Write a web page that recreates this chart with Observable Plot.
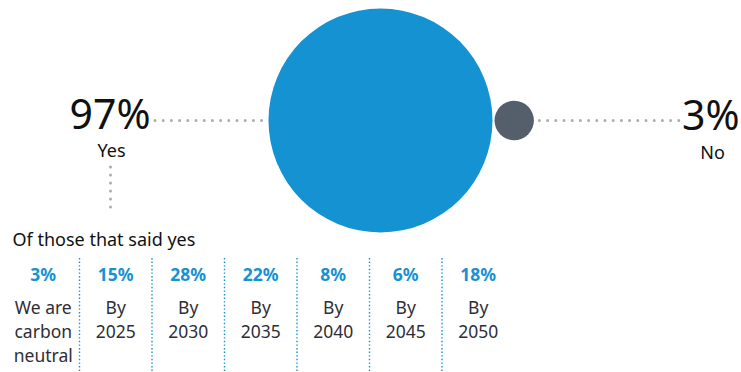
<!DOCTYPE html>
<html><head><meta charset="utf-8">
<script src="https://cdn.jsdelivr.net/npm/d3@7"></script>
<script src="https://cdn.jsdelivr.net/npm/@observablehq/plot@0.6"></script>
<style>body{margin:0;background:#fff}#chart svg{display:block}</style>
</head><body><div id="chart"></div>
<script>
// Data
const answers = ["Yes", "No"];
const answerValues = [97, 3];
const breakdownLabels = ["We are\ncarbon\nneutral", "By\n2025", "By\n2030", "By\n2035", "By\n2040", "By\n2045", "By\n2050"];
const breakdownValues = [3, 15, 28, 22, 8, 6, 18];
const subTitle = "Of those that said yes";

const W = 741, H = 372;
const font = "Noto Sans, sans-serif";
const blue = "#1592d2", grey = "#545f6b", dotGrey = "#a9aeb5", ink = "#2e2e38";

// circle radius scale (area-proportional)
const rScale = d3.scaleSqrt().domain([0, 97]).range([0, 112]);
const R = rScale(answerValues[0]), r = rScale(answerValues[1]);
const cy = 120, cxBig = 380;
const cxSmall = cxBig + R + 2 + r;
const circles = answers.map((a, i) => ({a, v: answerValues[i], x: i === 0 ? cxBig : cxSmall, y: cy}));

const band = d3.scaleBand().domain(breakdownLabels).range([6.5, 514]);
const cols = breakdownLabels.map((l, i) => ({label: l, value: breakdownValues[i], x: band(l) + band.bandwidth() / 2}));
const seps = breakdownLabels.slice(1).map(l => ({x: band(l)}));

const chart = Plot.plot({
  width: W, height: H, margin: 0,
  x: {domain: [0, W], range: [0, W], axis: null},
  y: {domain: [0, H], range: [0, H], axis: null},
  r: {type: "sqrt", domain: [0, 97], range: [0, 112]},
  style: {fontFamily: font, background: "#fff"},
  marks: [
    // dotted connectors
    Plot.ruleY([cy], {x1: 155, x2: cxBig - R - 6, stroke: dotGrey, strokeWidth: 3, strokeDasharray: "0,8.2", strokeLinecap: "round"}),
    Plot.ruleY([cy], {x1: cxSmall + r + 6, x2: 684, stroke: dotGrey, strokeWidth: 3, strokeDasharray: "0,8.2", strokeLinecap: "round"}),
    Plot.ruleX([110], {y1: 167, y2: 214, stroke: dotGrey, strokeWidth: 3, strokeDasharray: "0,8", strokeLinecap: "round"}),
    Plot.dot(circles, {x: "x", y: "y", r: "v", fill: (d, i) => i === 0 ? blue : grey, stroke: "none"}),
    // big percentages
    Plot.text([circles[0]], {x: 150, y: 115, text: d => d.v + "%", textAnchor: "end", fontSize: 41, fill: "#111", lineAnchor: "middle"}),
    Plot.text([circles[0]], {x: 111, y: 151, text: d => d.a, fontSize: 18, fill: "#111", lineAnchor: "middle"}),
    Plot.text([circles[1]], {x: 739, y: 116, text: d => d.v + "%", textAnchor: "end", fontSize: 41, fill: "#111", lineAnchor: "middle"}),
    Plot.text([circles[1]], {x: 712, y: 153, text: d => d.a, fontSize: 18, fill: "#111", lineAnchor: "middle"}),
    // subtitle
    Plot.text([subTitle], {x: 12, y: 240, text: d => d, textAnchor: "start", fontSize: 18, fill: "#111", lineAnchor: "middle"}),
    // column separators
    Plot.ruleX(seps, {x: "x", y1: 258, y2: 372, stroke: blue, strokeWidth: 1.4, strokeDasharray: "1.4,2.2"}),
    // column values
    Plot.text(cols, {x: "x", y: 275, text: d => d.value + "%", fontSize: 17.5, fontWeight: "bold", fill: blue, lineAnchor: "middle"}),
    Plot.text(cols, {x: "x", y: 296, text: "label", fontSize: 17.5, fill: ink, lineAnchor: "top", lineHeight: 1.38})
  ]
});
document.getElementById("chart").appendChild(chart);
</script></body></html>
